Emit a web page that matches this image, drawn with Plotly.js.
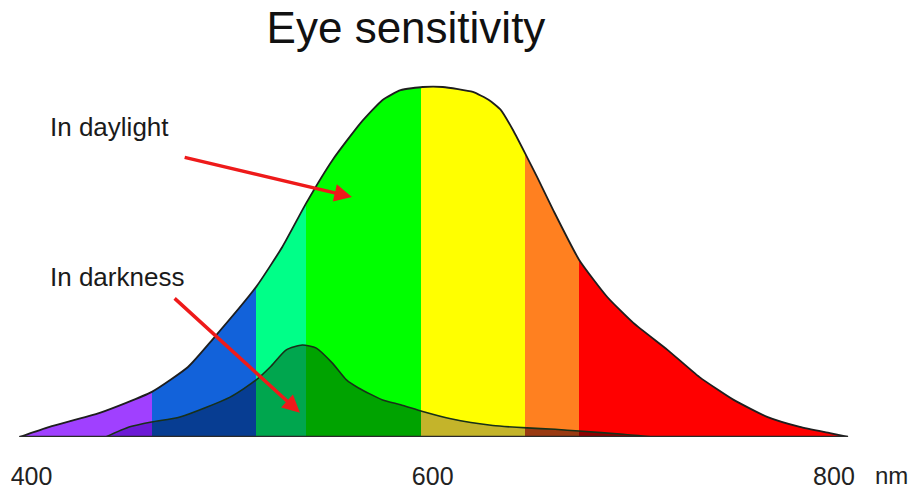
<!DOCTYPE html>
<html>
<head>
<meta charset="utf-8">
<script src="https://cdn.plot.ly/plotly-3.0.1.min.js"></script>
<style>html,body{margin:0;padding:0;background:#fff;}#chart{width:911px;height:490px;}</style>
</head>
<body>
<div id="chart"></div>
<script>
// Wavelength (nm) and relative sensitivity (%)
const dayWavelength = [394, 409, 434, 460, 478, 490, 512, 525, 537, 550, 564, 575, 584, 595, 605, 620, 628, 634, 640, 646, 652, 660, 673, 687, 700, 717, 733, 750, 767, 783, 798, 807];
const daySensitivity = [0, 2.9, 6.9, 12.9, 20, 27.7, 42.9, 54.3, 66.9, 79.1, 89.7, 96.3, 99.1, 100, 100, 98.6, 96.3, 93.4, 87.7, 81.1, 74.3, 64.9, 50.6, 40, 32.6, 24.9, 17.1, 10.6, 5.7, 2.9, 1.1, 0];

const darkWavelength = [437, 449, 460, 474, 499, 512, 519, 527, 535, 542, 550, 557, 563, 575, 584, 595, 609, 630, 647, 661, 673, 695, 710];
const darkSensitivity = [0, 2.9, 4.3, 5.7, 11.4, 16.3, 20, 24.9, 26.3, 25.4, 21.1, 16.3, 14, 10.6, 9.2, 7.3, 5.2, 3.3, 2.6, 2.2, 1.7, 0.8, 0];

// Colour bands of the spectrum (band edges in nm)
const bandEdges = [460, 512, 537, 594, 646, 673];
const bandColors = ['#a040ff', '#1262da', '#00ff88', '#00ff00', '#ffff00', '#ff8020', '#ff0000'];
const darkBandColors = ['#6c1ad6', '#073d92', '#00a64e', '#00a300', '#c4b42a', '#9a3a12', '#8e0000'];

const tickValues = [400, 600, 800];
const tickLabels = ['400', '600', '800'];

function bandScale(colors, start, stop) {
  const s = [[0, colors[0]]];
  bandEdges.forEach((e, i) => {
    const f = (e - start) / (stop - start);
    s.push([f, colors[i]]);
    s.push([f, colors[i + 1]]);
  });
  s.push([1, colors[colors.length - 1]]);
  return s;
}

const gStart = dayWavelength[0];
const gStop = dayWavelength[dayWavelength.length - 1];

const traces = [
  {
    x: dayWavelength, y: daySensitivity, type: 'scatter', mode: 'lines',
    line: {color: '#1e1e1e', width: 1.8, shape: 'spline', smoothing: 0.5},
    fill: 'tozeroy',
    fillgradient: {type: 'horizontal', start: gStart, stop: gStop, colorscale: bandScale(bandColors, gStart, gStop)},
    hoverinfo: 'skip', showlegend: false
  },
  {
    x: darkWavelength, y: darkSensitivity, type: 'scatter', mode: 'lines',
    line: {color: '#183018', width: 1.6, shape: 'spline', smoothing: 0.6},
    fill: 'tozeroy',
    fillgradient: {type: 'horizontal', start: gStart, stop: gStop, colorscale: bandScale(darkBandColors, gStart, gStop)},
    hoverinfo: 'skip', showlegend: false
  }
];

const font = 'Arial, "Liberation Sans", sans-serif';

const layout = {
  width: 911, height: 490,
  margin: {l: 0, r: 0, t: 0, b: 53},
  paper_bgcolor: '#ffffff', plot_bgcolor: '#ffffff',
  showlegend: false,
  title: {
    text: 'Eye sensitivity',
    font: {family: font, size: 44, color: '#111111'},
    x: 406 / 911, xanchor: 'center', xref: 'paper',
    y: 1 - 28 / 490, yanchor: 'middle', yref: 'container'
  },
  xaxis: {
    range: [384.3, 838.4],
    tickvals: tickValues, ticktext: tickLabels,
    ticks: 'outside', ticklen: 17, tickcolor: 'rgba(0,0,0,0)',
    tickfont: {family: font, size: 25, color: '#222222'},
    showgrid: false, zeroline: false, showline: false, fixedrange: true
  },
  yaxis: {
    range: [0, 124.86], visible: false, showgrid: false, zeroline: false, fixedrange: true
  },
  shapes: [
    {type: 'line', xref: 'x', yref: 'y', x0: gStart, x1: gStop, y0: 0, y1: 0,
     line: {color: '#2a2a2a', width: 2.5}}
  ],
  annotations: [
    {text: 'In daylight', x: 408.3, y: 88.6, xref: 'x', yref: 'y', xanchor: 'left', yanchor: 'middle',
     showarrow: false, font: {family: font, size: 26, color: '#1a1a1a'}},
    {text: 'In darkness', x: 408.3, y: 45.7, xref: 'x', yref: 'y', xanchor: 'left', yanchor: 'middle',
     showarrow: false, font: {family: font, size: 26, color: '#1a1a1a'}},
    {text: 'nm', x: 0.9985, y: -0.089, xref: 'paper', yref: 'paper', xanchor: 'right', yanchor: 'middle',
     showarrow: false, font: {family: font, size: 24, color: '#222222'}},
    {text: '', x: 559.7, y: 68.6, ax: 475.6, ay: 80, xref: 'x', yref: 'y', axref: 'x', ayref: 'y',
     showarrow: true, arrowhead: 2, arrowsize: 1, arrowwidth: 3.5, arrowcolor: '#ee1a1a', standoff: 0},
    {text: '', x: 533.8, y: 6.9, ax: 470.6, ay: 40, xref: 'x', yref: 'y', axref: 'x', ayref: 'y',
     showarrow: true, arrowhead: 2, arrowsize: 1, arrowwidth: 3.5, arrowcolor: '#ee1a1a', standoff: 0}
  ]
};

Plotly.newPlot('chart', traces, layout, {staticPlot: true, displayModeBar: false});
</script>
</body>
</html>
